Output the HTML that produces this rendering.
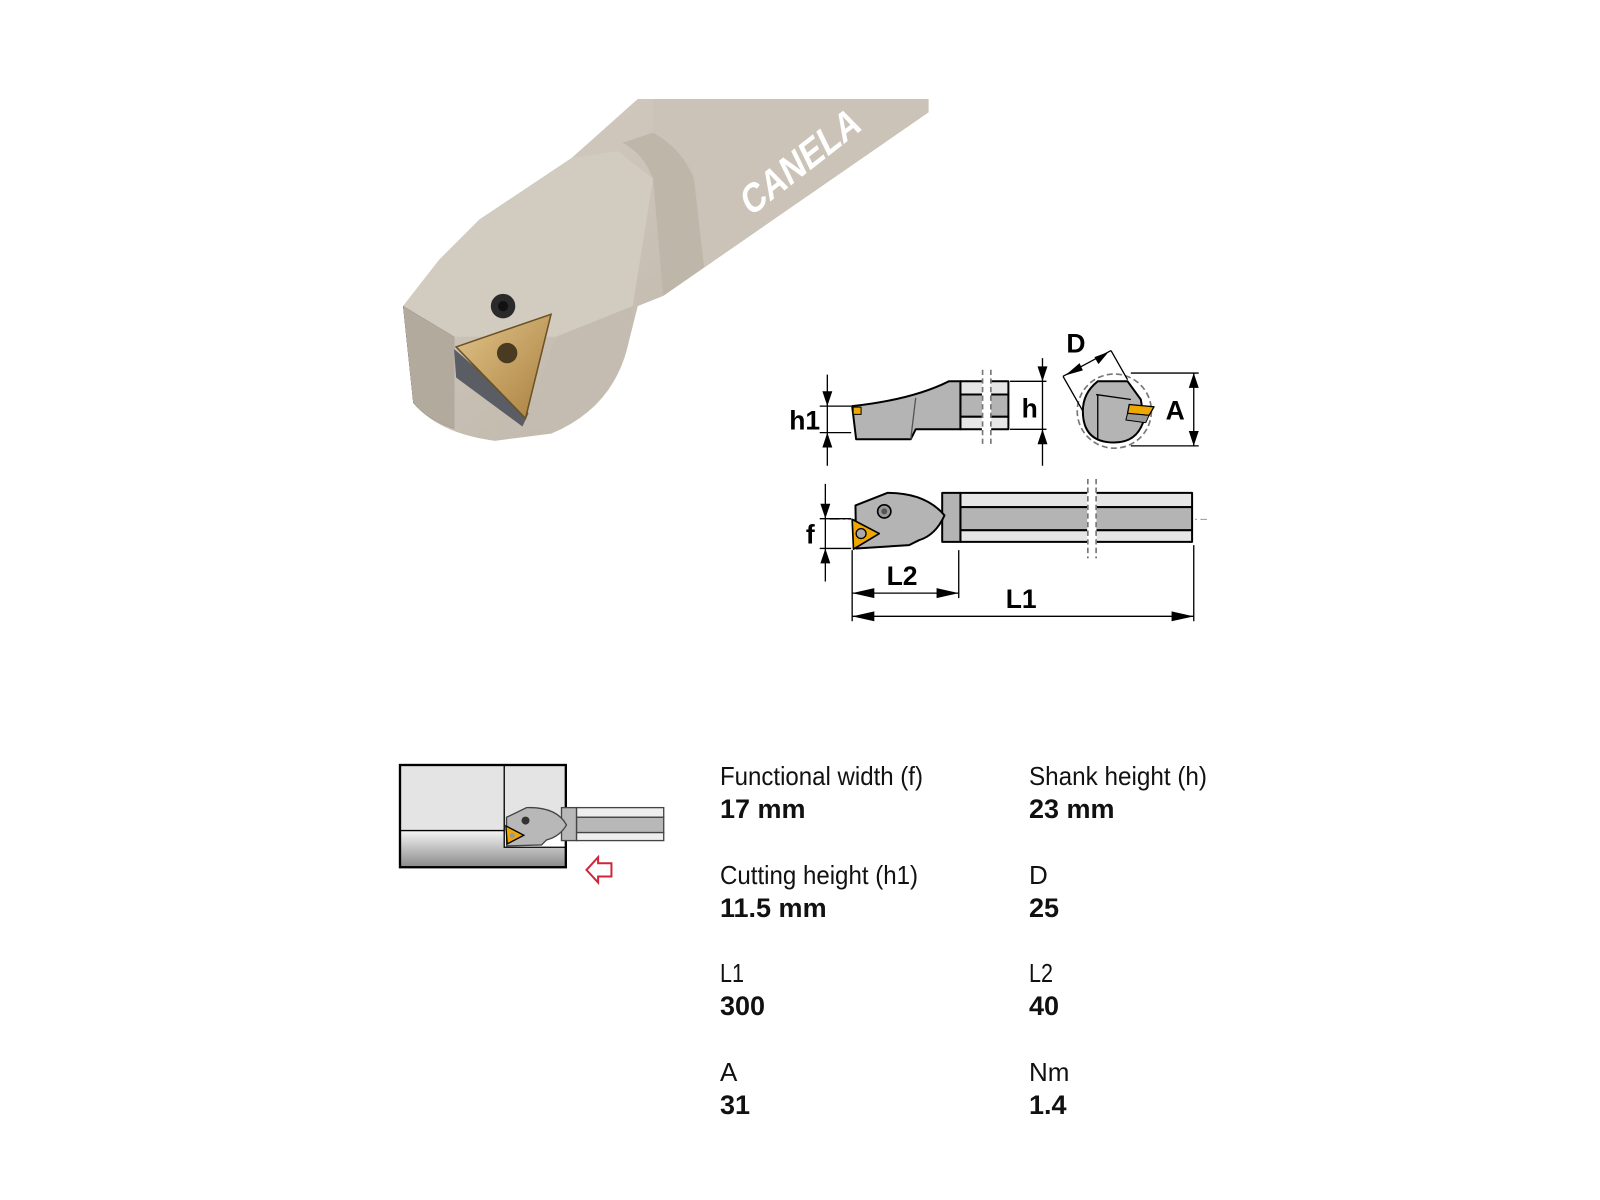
<!DOCTYPE html>
<html><head><meta charset="utf-8"><style>
html,body{margin:0;padding:0;background:#fff;}
svg{display:block}
</style></head><body>
<svg width="1600" height="1200" viewBox="0 0 1600 1200" xmlns="http://www.w3.org/2000/svg">
<defs>
<linearGradient id="bar" x1="0" y1="0" x2="1" y2="1">
<stop offset="0" stop-color="#d6cec3"/><stop offset="1" stop-color="#b8afa2"/></linearGradient>
<linearGradient id="gold" x1="0" y1="0" x2="1" y2="1">
<stop offset="0" stop-color="#e2c48a"/><stop offset="1" stop-color="#a9803f"/></linearGradient>
<linearGradient id="bore" x1="0" y1="0" x2="0" y2="1">
<stop offset="0" stop-color="#f4f4f4"/><stop offset="1" stop-color="#8a8a8a"/></linearGradient>
</defs>

<!-- Photo (coords in displayed units, scaled) -->
<g transform="scale(1.0204)">
<path d="M625,97 L910,97 L910,110 L650,290 L625,300 L615,340 Q600,400 540,425 L485,432 Q430,425 405,395 L395,300 L430,255 L470,215 L560,155 Z" fill="url(#bar)"/>
<path d="M640,97 L910,97 L910,110 L690,262 L680,170 Q665,140 640,130 Z" fill="#cbc3b7"/>
<path d="M640,130 Q668,145 680,175 L690,262 L650,290 L640,175 Q630,150 610,140 Z" fill="#bfb6aa"/>
<path d="M395,300 L430,255 L470,215 L560,155 L605,148 L640,175 L620,300 L545,330 L445,330 Z" fill="#d2cbc0"/>
<path d="M395,300 L445,330 L445,420 Q420,412 405,395 Z" fill="#b6ad a0" />
<path d="M395,300 L445,330 L445,420 Q420,412 405,395 Z" fill="#b3aa9e"/>
<path d="M545,330 L620,300 L615,340 Q600,400 540,425 L515,415 Z" fill="#c4bcb0"/>
<path d="M445,342 L447,370 L512,418 L518,405 Z" fill="#5a5d64"/>
<path d="M447,340 L540,308 L515,410 Z" fill="url(#gold)" stroke="#6b5125" stroke-width="1.5"/>
<circle cx="497" cy="346" r="10" fill="#4a3a22"/>
<circle cx="493" cy="300" r="12" fill="#2a2a2a"/><circle cx="493" cy="300" r="5" fill="#111"/>
<text x="0" y="0" transform="translate(735,213) rotate(-38) skewX(-12)" font-family="Liberation Sans, sans-serif" font-weight="bold" font-size="38" fill="#fff" textLength="140" lengthAdjust="spacingAndGlyphs">CANELA</text>
</g>

<!-- Technical drawing -->
<g transform="translate(780,330) scale(0.331)" font-family="Liberation Sans, sans-serif" font-weight="bold" stroke-linejoin="round">
<rect x="545" y="155" width="145" height="40" fill="#e6e6e6" stroke="#000" stroke-width="6"/>
<rect x="545" y="195" width="145" height="67" fill="#b4b4b4" stroke="#000" stroke-width="6"/>
<rect x="545" y="262" width="145" height="38" fill="#e6e6e6" stroke="#000" stroke-width="6"/>
<path d="M218,230 Q400,210 510,155 L545,155 L545,300 L410,300 L395,330 L230,330 Z" fill="#b4b4b4" stroke="#000" stroke-width="6"/>
<path d="M410,205 L395,330" stroke="#555" stroke-width="4"/>
<rect x="610" y="140" width="28" height="180" fill="#fff"/>
<path d="M612,120 V345 M637,120 V345" stroke="#777" stroke-width="5" stroke-dasharray="16,10"/>
<rect x="221" y="233" width="24" height="22" fill="#f0a800" stroke="#000" stroke-width="3"/>
<path d="M143,135 V410 M120,230 H215 M120,310 H215 M695,155 H805 M695,300 H805 M793,85 V410" stroke="#000" stroke-width="4" fill="none"/>
<path d="M128,185 L158,185 L143,230 Z M128,355 L158,355 L143,310 Z M778,110 L808,110 L793,155 Z M778,345 L808,345 L793,300 Z" fill="#000"/>
<text x="28" y="300" font-size="80">h1</text>
<text x="730" y="265" font-size="80">h</text>
<circle cx="1010" cy="245" r="112" fill="none" stroke="#777" stroke-width="5" stroke-dasharray="18,10"/>
<path d="M960,155 L1050,155 L1090,210 L1100,270 Q1080,340 1010,340 Q915,340 915,245 Q915,190 960,155 Z" fill="#b4b4b4" stroke="#000" stroke-width="6"/>
<path d="M960,195 V330 M955,195 L1060,210" stroke="#000" stroke-width="4"/>
<path d="M1055,225 L1130,232 L1115,258 L1050,252 Z" fill="#f0a800" stroke="#000" stroke-width="4"/>
<path d="M1050,252 L1115,258 L1105,280 L1045,272 Z" fill="#999" stroke="#000" stroke-width="3"/>
<path d="M855,140 L1000,62 M855,140 L915,245 M1000,62 L1050,150 M1060,130 H1265 M1060,350 H1265 M1250,130 V350" stroke="#000" stroke-width="4" fill="none"/>
<path d="M862,137 L905,100 L915,122 Z M993,66 L950,82 L962,103 Z M1235,175 L1265,175 L1250,130 Z M1235,305 L1265,305 L1250,350 Z" fill="#000"/>
<text x="865" y="68" font-size="80">D</text>
<text x="1165" y="270" font-size="80">A</text>
<path d="M150,572 H1290" stroke="#999" stroke-width="3" stroke-dasharray="30,10,6,10"/>
<rect x="545" y="492" width="700" height="43" fill="#e6e6e6" stroke="#000" stroke-width="6"/>
<rect x="545" y="535" width="700" height="70" fill="#b4b4b4" stroke="#000" stroke-width="6"/>
<rect x="545" y="605" width="700" height="35" fill="#e6e6e6" stroke="#000" stroke-width="6"/>
<rect x="490" y="492" width="55" height="148" fill="#b4b4b4" stroke="#000" stroke-width="6"/>
<path d="M228,530 L325,492 Q440,492 497,560 Q470,620 420,635 L390,650 L230,660 Z" fill="#b4b4b4" stroke="#000" stroke-width="6"/>
<rect x="928" y="450" width="28" height="240" fill="#fff"/>
<path d="M930,450 V690 M955,450 V690" stroke="#777" stroke-width="5" stroke-dasharray="16,10"/>
<circle cx="315" cy="548" r="20" fill="#999" stroke="#000" stroke-width="5"/><circle cx="315" cy="548" r="9" fill="#555"/>
<path d="M218,572 L300,615 L222,662 Z" fill="#f0a800" stroke="#000" stroke-width="5"/>
<circle cx="245" cy="615" r="15" fill="#aaa" stroke="#000" stroke-width="4"/>
<path d="M137,465 V760 M120,570 H215 M120,660 H215 M218,665 V880 M540,665 V810 M1250,650 V880 M218,795 H540 M218,865 H1250" stroke="#000" stroke-width="4" fill="none"/>
<path d="M122,525 L152,525 L137,570 Z M122,705 L152,705 L137,660 Z M218,795 L285,780 L285,810 Z M540,795 L473,780 L473,810 Z M218,865 L285,850 L285,880 Z M1250,865 L1183,850 L1183,880 Z" fill="#000"/>
<text x="78" y="645" font-size="80">f</text>
<text x="322" y="770" font-size="80">L2</text>
<text x="682" y="840" font-size="80">L1</text>
</g>

<!-- application sketch -->
<g transform="translate(390,760) scale(0.333)">
<rect x="30" y="15" width="498" height="197" fill="#e4e4e4"/>
<rect x="30" y="212" width="498" height="110" fill="url(#bore)"/>
<rect x="343" y="212" width="185" height="50" fill="#fff"/>
<path d="M343,15 V262 H528 M30,212 H343" stroke="#000" stroke-width="4" fill="none"/>
<rect x="30" y="15" width="498" height="307" fill="none" stroke="#000" stroke-width="7"/>
<rect x="560" y="143" width="262" height="29" fill="#eee" stroke="#444" stroke-width="4"/>
<rect x="560" y="172" width="262" height="46" fill="#b8b8b8" stroke="#444" stroke-width="4"/>
<rect x="560" y="218" width="262" height="24" fill="#eee" stroke="#444" stroke-width="4"/>
<rect x="515" y="143" width="45" height="99" fill="#b8b8b8" stroke="#444" stroke-width="4"/>
<path d="M350,172 L410,143 Q500,140 530,195 Q510,230 470,240 L455,255 L350,258 Z" fill="#b8b8b8" stroke="#444" stroke-width="4"/>
<circle cx="407" cy="182" r="12" fill="#333"/>
<path d="M348,198 L402,226 L352,252 Z" fill="#f0a800" stroke="#000" stroke-width="4"/>
<circle cx="367" cy="227" r="8" fill="#999"/>
<path d="M590,330 L625,292 L625,310 L665,310 L665,350 L625,350 L625,368 Z" fill="#fff" stroke="#d0243a" stroke-width="6"/>
</g>

<!-- specs -->
<g font-family="Liberation Sans, sans-serif" fill="#111">
<g font-size="26">
<text x="720" y="785" textLength="203" lengthAdjust="spacingAndGlyphs">Functional width (f)</text>
<text x="1029" y="785" textLength="178" lengthAdjust="spacingAndGlyphs">Shank height (h)</text>
<text x="720" y="884" textLength="198" lengthAdjust="spacingAndGlyphs">Cutting height (h1)</text>
<text x="1029" y="884">D</text>
<text x="720" y="982" textLength="24" lengthAdjust="spacingAndGlyphs">L1</text>
<text x="1029" y="982" textLength="24" lengthAdjust="spacingAndGlyphs">L2</text>
<text x="720" y="1081">A</text>
<text x="1029" y="1081">Nm</text>
</g>
<g font-size="27" font-weight="bold">
<text x="720" y="818">17 mm</text>
<text x="1029" y="818">23 mm</text>
<text x="720" y="917">11.5 mm</text>
<text x="1029" y="917">25</text>
<text x="720" y="1015">300</text>
<text x="1029" y="1015">40</text>
<text x="720" y="1114">31</text>
<text x="1029" y="1114">1.4</text>
</g>
</g>
</svg>
</body></html>
